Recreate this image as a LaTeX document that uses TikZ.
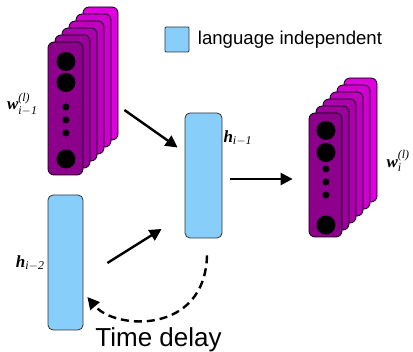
\documentclass[tikz,border=0pt]{standalone}
\usepackage{amsmath}
\usepackage{fontspec}
\setmainfont{Liberation Serif}
\setsansfont{Liberation Sans}
\usepackage{tikz}
\usetikzlibrary{arrows.meta,positioning,calc}

\definecolor{indep}{RGB}{135,206,250}
\definecolor{wfront}{RGB}{140,0,140}
\definecolor{wback}{RGB}{222,0,222}
\newcommand{\bw}{\text{\bfseries\itshape w}}
\newcommand{\bh}{\text{\bfseries\itshape h}}
\newcommand{\ii}{\text{\itshape i}}
\newcommand{\one}{\text{\itshape 1}}
\newcommand{\two}{\text{\itshape 2}}

\tikzset{
  hbox/.style={draw=black!80, line width=0.8pt, fill=indep, rounded corners=5pt, inner sep=0pt},
  layer/.style={draw=black, line width=0.8pt, rounded corners=6pt, inner sep=0pt},
  unit/.style={circle, fill=black, inner sep=0pt, minimum size=#1},
  flow/.style={line width=2.4pt, -{Triangle[length=12pt,width=12pt]}},
  lab/.style={font=\fontsize{17}{20}\selectfont}
}

\begin{document}
\begin{tikzpicture}[x=1pt,y=-1pt]
    \useasboundingbox (0,0) rectangle (413,352);

    % word vectors: a stack of layers, back to front
    \foreach \k in {5,4,...,1} {
        \pgfmathtruncatemacro\p{20*\k}
        \node[layer, fill=wback!\p!wfront, minimum width=35pt, minimum height=133pt]
            at ($(65.5,108.5)+(7*\k,-7*\k)$) {};
        \node[layer, fill=wback!\p!wfront, minimum width=33pt, minimum height=124pt]
            at ($(325.5,175)+(7*\k,-7*\k)$) {};
    }
    \node[layer, fill=wfront, minimum width=35pt, minimum height=133pt] (wprev) at (65.5,108.5) {};
    \node[layer, fill=wfront, minimum width=33pt, minimum height=124pt] (wnext) at (325.5,175) {};

    % units drawn in the front layers
    \foreach \y/\s in {61.5/19pt, 82.5/19pt, 107/7pt, 120/7pt, 133/7pt, 159/19pt}
        \node[unit=\s] at (66,\y) {};
    \foreach \y/\s in {130.5/19pt, 152.5/19pt, 169/7pt, 182/7pt, 195/7pt, 225/19pt}
        \node[unit=\s] at (326,\y) {};

    % hidden states
    \node[hbox, minimum width=35pt, minimum height=135pt] (hprev2) at (65.5,262.5) {};
    \node[hbox, minimum width=37pt, minimum height=125pt] (hprev1) at (203.5,175.5) {};

    % labels
    \node[lab, anchor=east] (wprevlab) at (41,104) {$\bw^{\text{\itshape(l)}}_{\ii-\one}$};
    \node[lab, anchor=west] (wnextlab) at (383,161) {$\bw^{\text{\itshape(l)}}_{\ii}$};
    \node[lab, anchor=west] (hprev1lab) at (220,138) {$\bh_{\ii-\one}$};
    \node[lab, anchor=east] (hprev2lab) at (48,263) {$\bh_{\ii-\two}$};

    % legend
    \node[hbox, rounded corners=1pt, minimum width=24pt, minimum height=25pt] (key) at (177,39.5) {};
    \node[font=\sffamily\fontsize{18.6}{20}\selectfont, anchor=west, right=5pt of key] (keylab) {language independent};

    % connections
    \coordinate (a1) at ($(wprev.east)+(41,1.5)$);
    \coordinate (b1) at ($(hprev1.west)+(-7,-28)$);
    \coordinate (a2) at ($(hprev1.east)+(8,3.5)$);
    \coordinate (b2) at ($(wnext.west)+(-16,4)$);
    \coordinate (a3) at ($(hprev2.east)+(24,0.5)$);
    \coordinate (b3) at ($(hprev1.west)+(-23,53.5)$);
    \draw[flow] (a1) -- (b1);
    \draw[flow] (a2) -- (b2);
    \draw[flow] (a3) -- (b3);

    % time delay loop
    \coordinate (d1) at ($(hprev1.south)+(3.5,17)$);
    \coordinate (d2) at ($(hprev2.east)+(4,34.5)$);
    \draw[line width=2.4pt, dash pattern=on 8pt off 5pt, -{Triangle[length=12pt,width=12pt]}]
        (d1) .. controls (205,335) and (115,330) .. (d2);
    \node[font=\sffamily\fontsize{26}{28}\selectfont, anchor=base] (delay) at (158.5,347) {Time delay};
\end{tikzpicture}
\end{document}
